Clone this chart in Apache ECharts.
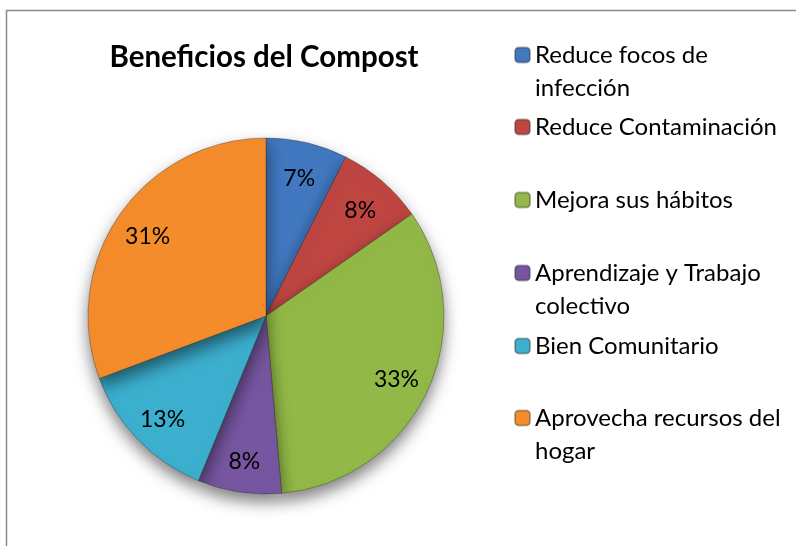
<!DOCTYPE html>
<html>
<head>
<meta charset="utf-8">
<script src="https://cdn.jsdelivr.net/npm/echarts@6/dist/echarts.min.js"></script>
<style>
  html, body { margin: 0; padding: 0; background: #fff; }
  #chart { width: 796px; height: 546px; }
</style>
</head>
<body>
<div id="chart"></div>
<script>
// data
const categories = [
  'Reduce focos de infección',
  'Reduce Contaminación',
  'Mejora sus hábitos',
  'Aprendizaje y Trabajo colectivo',
  'Bien Comunitario',
  'Aprovecha recursos del hogar'
];
const legendLines = [
  ['Reduce focos de', 'infección'],
  ['Reduce Contaminación'],
  ['Mejora sus hábitos'],
  ['Aprendizaje y Trabajo', 'colectivo'],
  ['Bien Comunitario'],
  ['Aprovecha recursos del', 'hogar']
];
const values = [7.4, 7.9, 33.3, 7.6, 13.1, 30.7];
const colors = ['#4178C0', '#BF4541', '#92B947', '#7656A0', '#3CAECE', '#F58C2C'];

const FONT = 'Lato';
const center = [266, 316];
const R = 178;
const legendCenters = [55, 127, 200, 273, 346, 418];
const LH = 33;

const chart = echarts.init(document.getElementById('chart'));

const pieData = categories.map((name, i) => ({
  name: name,
  value: values[i],
  itemStyle: { color: colors[i] }
}));

// one legend block per entry so spacing matches the original;
// a blank leading line keeps the first text line level with the icon
const legends = categories.map((name, i) => {
  const twoLines = legendLines[i].length > 1;
  return {
    data: [name],
    orient: 'vertical',
    left: 514,
    top: legendCenters[i] - (twoLines ? LH * 1.5 : LH / 2),
    padding: 0,
    itemWidth: 15,
    itemHeight: 15,
    itemGap: 0,
    selectedMode: false,
    formatter: () => (twoLines ? '\n' : '') + legendLines[i].join('\n'),
    textStyle: {
      fontFamily: FONT,
      fontSize: 24,
      color: '#000',
      lineHeight: LH
    }
  };
});

chart.setOption({
  animation: false,
  color: colors,
  title: {
    text: 'Beneficios del Compost',
    left: 259,
    textAlign: 'center',
    top: 37,
    textStyle: { fontFamily: FONT, fontWeight: 'bold', fontSize: 29.5, color: '#000' }
  },
  legend: legends,
  graphic: [{
    type: 'rect',
    silent: true,
    shape: { x: 6.5, y: 10.5, width: 900, height: 700 },
    style: { fill: 'none', stroke: '#8a8a8a', lineWidth: 1.5 }
  }],
  series: [
    {
      type: 'pie',
      center: center,
      radius: [0, R],
      startAngle: 90,
      clockwise: true,
      label: { show: false },
      labelLine: { show: false },
      itemStyle: {
        borderColor: 'rgba(40,40,40,0.35)',
        borderWidth: 1,
        shadowBlur: 16,
        shadowOffsetY: 8,
        shadowColor: 'rgba(0,0,0,0.5)'
      },
      data: pieData
    },
    {
      // transparent ring that only carries the percentage labels
      type: 'pie',
      silent: true,
      center: center,
      radius: [104, R],
      startAngle: 90,
      clockwise: true,
      percentPrecision: 0,
      itemStyle: { color: 'rgba(0,0,0,0)' },
      label: {
        show: true,
        position: 'inside',
        formatter: '{d}%',
        fontFamily: FONT,
        fontSize: 23,
        color: '#000',
        offset: [0, 3]
      },
      labelLine: { show: false },
      data: categories.map((name, i) => ({ name: name, value: values[i] }))
    }
  ]
});
</script>
</body>
</html>
